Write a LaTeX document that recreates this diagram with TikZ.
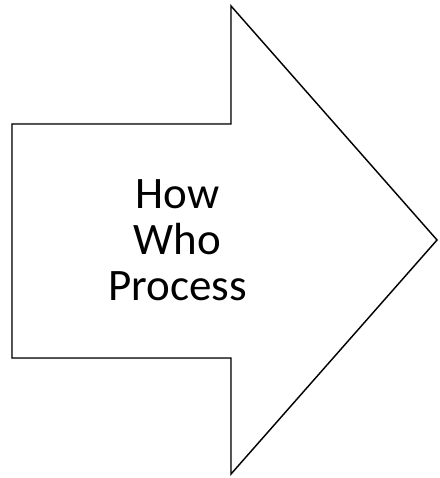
\documentclass[tikz,border=0pt]{standalone}
\usepackage{fontspec}
\setmainfont{Carlito}
\begin{document}
\begin{tikzpicture}[x=1pt,y=-1pt,
  arrowshape/.style={draw=black,line width=1.4pt,line join=miter,fill=white},
  label/.style={font=\fontsize{45}{46}\selectfont,align=center,text=black,inner sep=0pt}]
\useasboundingbox (0,0) rectangle (439,478);
\coordinate (a1) at (12,124);
\coordinate (a2) at (231,124);
\coordinate (a3) at (231,6);
\coordinate (tip) at (437,240);
\coordinate (a5) at (231,474);
\coordinate (a6) at (231,358);
\coordinate (a7) at (12,358);
\draw[draw=black!12,line width=2pt,xshift=1.5pt,yshift=-2pt] (a1) -- (a2) -- (a3) -- (tip) -- (a5) -- (a6) -- (a7) -- cycle;
\draw[arrowshape] (a1) -- (a2) -- (a3) -- (tip) -- (a5) -- (a6) -- (a7) -- cycle;
\node[label] (t) at (177.5,240) {How\\Who\\Process};
\end{tikzpicture}
\end{document}
